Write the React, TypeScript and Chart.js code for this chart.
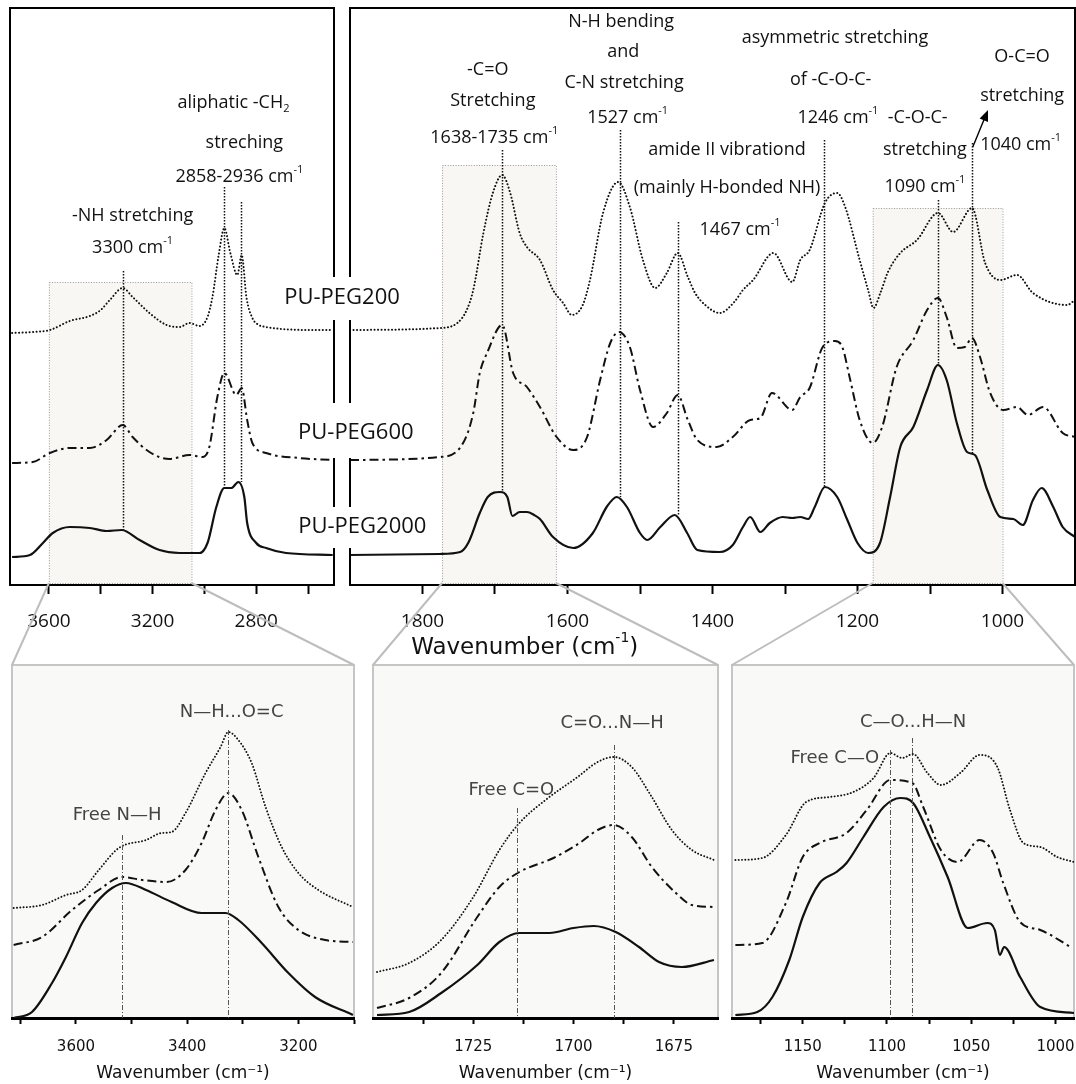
import React, { useEffect, useRef } from 'react';
import { Chart, registerables } from 'chart.js';
Chart.register(...registerables);

type P = [number, number];

// ---------- DATA (wavenumber cm-1, relative absorbance) ----------
// Top-left panel 3750-2500 cm-1
const tlPeg200: P[] = [[3742,25.2],[3660,25.3],[3596,25.5],[3519,26.4],[3442,26.9],[3400,27.5],[3365,28.5],[3315,29.7],[3277,28.8],[3212,27.2],[3146,26.0],[3096,25.8],[3058,26.2],[3019,25.9],[2988,26.8],[2969,28.8],[2945,33.0],[2923,35.7],[2900,33.2],[2873,31.0],[2856,33.0],[2838,28.8],[2815,26.7],[2790,26.0],[2762,25.8],[2700,25.6],[2600,25.5],[2505,25.5]];
const tlPeg600: P[] = [[3742,12.2],[3662,12.3],[3596,13.2],[3519,13.7],[3442,13.7],[3377,14.5],[3315,16.0],[3277,14.8],[3212,13.3],[3135,12.6],[3058,13.0],[3008,12.8],[2981,13.8],[2950,18.8],[2923,21.2],[2877,19.0],[2856,19.7],[2835,16.5],[2815,14.2],[2762,13.2],[2635,12.7],[2505,12.5]];
const tlPeg2000: P[] = [[3742,2.8],[3673,3.0],[3623,4.2],[3585,5.2],[3519,5.8],[3442,5.7],[3377,5.4],[3319,5.5],[3250,4.5],[3173,3.5],[3096,3.2],[3019,3.2],[2988,4.2],[2954,7.8],[2923,9.7],[2896,9.7],[2869,10.3],[2846,8.8],[2835,6.2],[2800,4.2],[2762,3.7],[2685,3.2],[2505,3.0]];

// Top-right panel 1900-900 cm-1
const trPeg200: P[] = [[1900,25.5],[1776,25.7],[1752,26.2],[1739,27.5],[1730,29.5],[1716,35.2],[1703,39.2],[1690,41.0],[1679,39.2],[1666,35.2],[1656,33.8],[1638,32.5],[1620,29.5],[1606,28.2],[1594,27.0],[1579,28.0],[1569,30.5],[1551,37.2],[1530,40.3],[1514,37.8],[1496,32.5],[1479,29.7],[1463,31.2],[1448,33.2],[1434,30.8],[1424,29.2],[1410,28.0],[1390,27.2],[1370,28.3],[1358,29.5],[1344,30.5],[1316,33.2],[1290,30.3],[1279,32.5],[1266,33.5],[1245,38.2],[1228,39.2],[1217,37.8],[1197,32.5],[1185,29.4],[1178,27.7],[1168,29.3],[1158,31.3],[1141,33.2],[1118,34.5],[1089,37.2],[1068,35.3],[1042,37.7],[1024,32.2],[1003,30.5],[980,31.0],[958,29.2],[911,28.0],[900,28.5]];
const trPeg600: P[] = [[1900,12.5],[1776,12.8],[1744,14.2],[1730,17.2],[1721,21.2],[1711,23.2],[1690,26.0],[1675,21.2],[1656,19.8],[1638,17.8],[1615,14.8],[1592,13.5],[1573,14.8],[1555,20.5],[1541,24.2],[1529,25.3],[1514,23.8],[1500,19.5],[1482,15.8],[1463,17.2],[1448,19.0],[1434,16.5],[1421,14.5],[1394,13.8],[1372,14.8],[1348,16.5],[1334,16.7],[1318,19.2],[1290,17.5],[1279,18.8],[1266,19.7],[1248,23.8],[1231,24.4],[1221,23.8],[1210,20.5],[1197,16.5],[1179,14.2],[1166,15.8],[1146,21.8],[1123,24.5],[1104,27.5],[1089,28.7],[1077,26.8],[1063,23.7],[1052,23.8],[1042,24.7],[1031,22.8],[1017,19.2],[999,17.5],[980,17.8],[965,17.0],[944,17.8],[917,15.2],[900,14.8]];
const trPeg2000: P[] = [[1900,3.0],[1776,3.1],[1748,3.3],[1737,4.2],[1721,7.2],[1710,8.8],[1693,9.3],[1683,8.8],[1676,6.9],[1666,7.3],[1656,7.3],[1646,7.0],[1638,6.6],[1620,4.8],[1592,3.7],[1565,5.2],[1546,7.8],[1532,8.8],[1518,7.8],[1500,5.2],[1490,4.5],[1472,5.8],[1452,7.0],[1435,5.2],[1421,3.5],[1390,3.3],[1372,4.0],[1358,5.8],[1348,6.8],[1334,5.3],[1321,6.2],[1303,6.8],[1290,6.7],[1279,6.8],[1268,6.6],[1259,7.8],[1245,9.8],[1228,8.8],[1214,6.5],[1200,4.2],[1185,3.2],[1169,4.2],[1155,8.8],[1141,13.8],[1123,15.8],[1104,19.5],[1089,22.0],[1077,20.5],[1063,16.2],[1049,13.3],[1038,13.0],[1021,9.5],[1003,6.8],[985,6.6],[972,6.0],[958,8.5],[946,9.7],[930,7.8],[917,5.8],[900,4.8]];

// Bottom panels (zoomed regions)
const aPeg200: P[] = [[3712,11.0],[3661,11.3],[3618,12.3],[3589,12.8],[3559,14.8],[3523,17.0],[3474,17.8],[3446,18.5],[3428,18.6],[3403,20.5],[3367,24.5],[3340,27.1],[3326,28.6],[3308,27.8],[3284,25.5],[3259,21.1],[3230,17.1],[3200,14.5],[3164,12.8],[3102,11.1]];
const aPeg600: P[] = [[3712,7.3],[3661,8.1],[3607,10.8],[3559,12.8],[3517,14.1],[3481,13.8],[3437,13.6],[3403,14.8],[3374,17.5],[3349,20.8],[3326,22.5],[3302,20.8],[3272,16.1],[3236,11.1],[3200,8.8],[3152,7.8],[3102,7.6]];
const aPeg2000: P[] = [[3712,0.0],[3679,0.6],[3643,3.5],[3618,6.1],[3589,9.5],[3564,11.5],[3535,13.0],[3510,13.5],[3474,12.8],[3428,11.6],[3374,10.5],[3331,10.5],[3308,9.8],[3266,7.5],[3218,4.5],[3170,2.1],[3102,0.3]];

const bPeg200: P[] = [[1749,4.6],[1741,5.5],[1733,7.8],[1725,12.1],[1718.5,16.8],[1713.5,19.5],[1707,21.8],[1699,24.1],[1694,25.6],[1690,26.1],[1685.5,25.1],[1680.5,22.1],[1675.5,18.8],[1670.5,16.8],[1665,15.8]];
const bPeg600: P[] = [[1749,1.0],[1741,2.0],[1733,4.5],[1724,10.1],[1718.5,13.1],[1713.5,14.6],[1705,16.0],[1698.5,17.5],[1694,18.8],[1690,19.3],[1685.5,18.1],[1680.5,15.1],[1674.5,12.5],[1670.5,11.3],[1665,11.1]];
const bPeg2000: P[] = [[1749,0.3],[1741,0.6],[1733,2.5],[1724,5.3],[1718.5,7.6],[1713.5,8.5],[1706,8.5],[1700,9.0],[1695,9.2],[1689.5,8.6],[1683.7,7.1],[1678.7,5.6],[1673,5.1],[1665,5.8]];

const cPeg200: P[] = [[1190,15.8],[1174,16.0],[1160,18.3],[1148,21.6],[1134,22.1],[1120,22.6],[1108,24.0],[1098,26.5],[1091,26.0],[1084.5,26.4],[1076,24.5],[1068,23.3],[1056.5,24.5],[1045,26.3],[1034.5,25.1],[1027,20.8],[1019,17.5],[1009,17.1],[999,16.1],[989,15.6]];
const cPeg600: P[] = [[1190,7.3],[1174,7.5],[1160,11.5],[1150,16.1],[1140,17.5],[1124,18.5],[1112,20.8],[1098,23.8],[1085,23.5],[1078.5,21.1],[1068,16.8],[1058,15.6],[1045,17.8],[1037,16.5],[1031,13.5],[1021,9.6],[1009,8.8],[991,7.1]];
const cPeg2000: P[] = [[1190,0.3],[1177,0.6],[1168,2.1],[1158,5.8],[1150,10.1],[1140,13.5],[1130,14.6],[1124,15.5],[1114,18.1],[1102,21.1],[1092,22.0],[1084.5,21.5],[1074.5,18.1],[1064,14.1],[1052,9.0],[1040.5,9.5],[1036,8.8],[1033,6.3],[1030.5,7.1],[1021,4.1],[1009,1.1],[989,0.5]];

// Ticks
const tlTicks = [3600, 3400, 3200, 3000, 2800, 2600];
const tlLabels = [3600, 3200, 2800];
const trTicks = [1800, 1700, 1600, 1500, 1400, 1300, 1200, 1100, 1000];
const trLabels = [1800, 1600, 1400, 1200, 1000];
const aTicks = [3700, 3600, 3500, 3400, 3300, 3200, 3100];
const aLabels = [3600, 3400, 3200];
const bTicks = [1737.5, 1725, 1712.5, 1700, 1687.5, 1675];
const bLabels = [1725, 1700, 1675];
const cTicks = [1175, 1150, 1125, 1100, 1075, 1050, 1025, 1000];
const cLabels = [1150, 1100, 1050, 1000];

// Marker lines [wavenumber, top, bottom]
const tlMarks: [number, number, number][] = [[3315, 31.4, 5.5], [2923, 39.8, 9.7], [2858, 38.3, 10.3]];
const trMarks: [number, number, number][] = [[1690, 43.5, 9.3], [1527, 45.5, 8.8], [1448, 36.3, 7.0], [1246, 44.5, 9.8], [1089, 38.5, 22.0], [1042, 44.2, 13.0]];
const aMarks: [number, number, number][] = [[3517, 18.3, 0], [3326, 28.8, 0]];
const bMarks: [number, number, number][] = [[1714, 21.0, 0], [1690, 27.3, 0]];
const cMarks: [number, number, number][] = [[1098, 26.8, 0], [1085, 28.0, 0]];

// Zoom regions [from, to, bottom, top]
const tlBoxes: [number, number, number, number][] = [[3600, 3050, 0.2, 30.3]];
const trBoxes: [number, number, number, number][] = [[1773, 1616, 0.2, 42.0], [1179, 1000, 0.2, 37.7]];

// Annotations [text, wavenumber, level]
const tlNotes: [string, number, number][] = [
  ['-NH stretching', 3277, 36.9], ['3300 cm^{-1}', 3277, 33.7],
  ['aliphatic -CH_{2}', 2888, 48.2], ['streching', 2846, 44.2], ['2858-2936 cm^{-1}', 2865, 40.8],
];
const trNotes: [string, number, number][] = [
  ['-C=O', 1710, 51.5], ['Stretching', 1703, 48.4], ['1638-1735 cm^{-1}', 1701, 44.7],
  ['N-H bending', 1526, 56.3], ['and', 1523, 53.3], ['C-N stretching', 1522, 50.2], ['1527 cm^{-1}', 1517, 46.7],
  ['amide II vibrationd', 1380, 43.5], ['(mainly H-bonded NH)', 1380, 39.7], ['1467 cm^{-1}', 1362, 35.5],
  ['asymmetric stretching', 1231, 54.7], ['of -C-O-C-', 1237, 50.5], ['1246 cm^{-1}', 1227, 46.7],
  ['-C-O-C-', 1117, 46.7], ['stretching', 1107, 43.5], ['1090 cm^{-1}', 1107, 39.8],
  ['O-C=O', 973, 52.8], ['stretching', 973, 48.9], ['1040 cm^{-1}', 975, 44.0],
];
const trTitle: [string, number, number][] = [['Wavenumber (cm^{-1})', 1659, -6.3]];
const trArrows: [number, number, number, number][] = [[1041, 43.8, 1020, 47.5]];
const aNotes: [string, number, number][] = [['Free N—H', 3526, 20.3], ['N—H...O=C', 3320, 30.6]];
const bNotes: [string, number, number][] = [['Free C=O', 1715.5, 22.8], ['C=O...N—H', 1690.4, 29.5]];
const cNotes: [string, number, number][] = [['Free C—O', 1131, 26.0], ['C—O...H—N', 1084.5, 29.6]];

// Frame breaks on the inner borders of the top panels (level ranges)
const topBreaks: [number, number][] = [[57.7, 30.8], [26.5, 18.2], [12.7, 7.8], [3.7, 0]];

const pegLabels: [string, number, number][] = [['PU-PEG200', 1911, 28.7], ['PU-PEG600', 1892, 15.2], ['PU-PEG2000', 1883, 5.8]];

// ---------- STYLE ----------
const TXT = '"Open Sans", "DejaVu Sans", sans-serif';
const AX = '"DejaVu Sans", sans-serif';

type Kind = 'dot' | 'dashdot' | 'solid';

interface Panel {
  left: number; top: number; w: number; h: number;
  pad: { left: number; right: number; top: number; bottom: number };
  xMin: number; xMax: number; yMax: number;
  ticks: number[]; labels: number[];
  axisH: number; tickLen: number; tickPad: number; tickFont: any; borderW: number;
  title?: string;
  series: { data: P[]; kind: Kind }[];
  boxes: [number, number, number, number][];
  marks: [number, number, number][];
  markStyle: 'dot' | 'dashdot';
  notes: [string, number, number][];
  noteFont: string; noteSize: number; noteColor: string;
  extraText?: [string, number, number][];
  arrows?: [number, number, number, number][];
  frame: 'tl' | 'tr' | 'bottom';
  small: boolean;
}

const PANELS: Panel[] = [
  {
    left: 8, top: 6, w: 328, h: 659, pad: { left: 2, right: 2, top: 2, bottom: 0 },
    xMin: 2500, xMax: 3750, yMax: 57.7, ticks: tlTicks, labels: tlLabels,
    axisH: 80, tickLen: 9, tickPad: 16, tickFont: { family: TXT, size: 19 }, borderW: 2,
    series: [{ data: tlPeg200, kind: 'dot' }, { data: tlPeg600, kind: 'dashdot' }, { data: tlPeg2000, kind: 'solid' }],
    boxes: tlBoxes, marks: tlMarks, markStyle: 'dot', notes: tlNotes,
    noteFont: TXT, noteSize: 18, noteColor: '#111', frame: 'tl', small: false,
  },
  {
    left: 348, top: 6, w: 728, h: 659, pad: { left: 2, right: 1, top: 2, bottom: 0 },
    xMin: 900, xMax: 1900, yMax: 57.7, ticks: trTicks, labels: trLabels,
    axisH: 80, tickLen: 9, tickPad: 16, tickFont: { family: TXT, size: 19 }, borderW: 2,
    series: [{ data: trPeg200, kind: 'dot' }, { data: trPeg600, kind: 'dashdot' }, { data: trPeg2000, kind: 'solid' }],
    boxes: trBoxes, marks: trMarks, markStyle: 'dot', notes: trNotes,
    noteFont: TXT, noteSize: 18, noteColor: '#111', extraText: trTitle, arrows: trArrows, frame: 'tr', small: false,
  },
  {
    left: 10, top: 663, w: 346, h: 421, pad: { left: 2, right: 2, top: 2, bottom: 0 },
    xMin: 3100, xMax: 3715, yMax: 35.3, ticks: aTicks, labels: aLabels,
    axisH: 66, tickLen: 6, tickPad: 14, tickFont: { family: AX, size: 15 }, borderW: 3,
    title: 'Wavenumber (cm⁻¹)',
    series: [{ data: aPeg200, kind: 'dot' }, { data: aPeg600, kind: 'dashdot' }, { data: aPeg2000, kind: 'solid' }],
    boxes: [], marks: aMarks, markStyle: 'dashdot', notes: aNotes,
    noteFont: AX, noteSize: 18, noteColor: '#444', frame: 'bottom', small: true,
  },
  {
    left: 371, top: 663, w: 349, h: 421, pad: { left: 2, right: 2, top: 2, bottom: 0 },
    xMin: 1664, xMax: 1750, yMax: 35.3, ticks: bTicks, labels: bLabels,
    axisH: 66, tickLen: 6, tickPad: 14, tickFont: { family: AX, size: 15 }, borderW: 3,
    title: 'Wavenumber (cm⁻¹)',
    series: [{ data: bPeg200, kind: 'dot' }, { data: bPeg600, kind: 'dashdot' }, { data: bPeg2000, kind: 'solid' }],
    boxes: [], marks: bMarks, markStyle: 'dashdot', notes: bNotes,
    noteFont: AX, noteSize: 18, noteColor: '#444', frame: 'bottom', small: true,
  },
  {
    left: 730, top: 663, w: 346, h: 421, pad: { left: 2, right: 2, top: 2, bottom: 0 },
    xMin: 989, xMax: 1192, yMax: 35.3, ticks: cTicks, labels: cLabels,
    axisH: 66, tickLen: 6, tickPad: 14, tickFont: { family: AX, size: 15 }, borderW: 3,
    title: 'Wavenumber (cm⁻¹)',
    series: [{ data: cPeg200, kind: 'dot' }, { data: cPeg600, kind: 'dashdot' }, { data: cPeg2000, kind: 'solid' }],
    boxes: [], marks: cMarks, markStyle: 'dashdot', notes: cNotes,
    noteFont: AX, noteSize: 18, noteColor: '#444', frame: 'bottom', small: true,
  },
];

// connectors: [source panel, wavenumber, target panel, side]
const zoomLinks: [number, number, number, 'l' | 'r'][] = [
  [0, 3600, 2, 'l'], [0, 3050, 2, 'r'], [1, 1773, 3, 'l'], [1, 1616, 3, 'r'], [1, 1179, 4, 'l'], [1, 1000, 4, 'r'],
];

// ---------- helpers ----------
function richParts(s: string) {
  const out: { t: string; k: number }[] = [];
  const re = /(\^\{[^}]*\}|_\{[^}]*\})/g;
  let last = 0;
  let m: RegExpExecArray | null;
  while ((m = re.exec(s))) {
    if (m.index > last) out.push({ t: s.slice(last, m.index), k: 0 });
    out.push({ t: m[0].slice(2, -1), k: m[0][0] === '^' ? 1 : 2 });
    last = re.lastIndex;
  }
  if (last < s.length) out.push({ t: s.slice(last), k: 0 });
  return out;
}

function drawRich(ctx: CanvasRenderingContext2D, s: string, cx: number, cy: number, size: number, family: string, color: string) {
  const ps = richParts(s);
  const small = Math.round(size * 0.62);
  let total = 0;
  const ws = ps.map((p) => {
    ctx.font = `${p.k ? small : size}px ${family}`;
    const w = ctx.measureText(p.t).width;
    total += w;
    return w;
  });
  let x = cx - total / 2;
  ctx.fillStyle = color;
  ctx.textAlign = 'left';
  ctx.textBaseline = 'middle';
  ps.forEach((p, i) => {
    ctx.font = `${p.k ? small : size}px ${family}`;
    const dy = p.k === 1 ? -size * 0.42 : p.k === 2 ? size * 0.3 : 0;
    ctx.fillText(p.t, x, cy + dy);
    x += ws[i];
  });
}

function decor(p: Panel) {
  return {
    id: 'decor',
    beforeDraw(chart: any) {
      if (p.frame !== 'bottom') return;
      const { ctx, chartArea: a } = chart;
      ctx.save();
      ctx.fillStyle = '#f9f9f7';
      ctx.fillRect(a.left, a.top, a.right - a.left, a.bottom - a.top);
      ctx.strokeStyle = '#c6c6c6';
      ctx.lineWidth = 2;
      ctx.strokeRect(a.left, a.top, a.right - a.left, a.bottom - a.top);
      ctx.restore();
    },
    beforeDatasetsDraw(chart: any) {
      const { ctx, scales: { x, y } } = chart;
      ctx.save();
      p.boxes.forEach(([x0, x1, y0, y1]) => {
        const px0 = x.getPixelForValue(x0), px1 = x.getPixelForValue(x1);
        const py0 = y.getPixelForValue(y0), py1 = y.getPixelForValue(y1);
        ctx.fillStyle = '#f8f7f4';
        ctx.fillRect(px0, py1, px1 - px0, py0 - py1);
        ctx.strokeStyle = '#9a9a9a';
        ctx.lineWidth = 1;
        ctx.setLineDash([1, 1.6]);
        ctx.strokeRect(px0 + 0.5, py1 + 0.5, px1 - px0, py0 - py1);
      });
      ctx.restore();
    },
    afterDatasetsDraw(chart: any) {
      const { ctx, chartArea: a, scales: { x, y } } = chart;
      ctx.save();
      // marker lines
      p.marks.forEach(([w, t, b]) => {
        const px = Math.round(x.getPixelForValue(w)) + 0.5;
        ctx.beginPath();
        if (p.markStyle === 'dot') {
          ctx.strokeStyle = '#111'; ctx.lineWidth = 1.5; ctx.setLineDash([1.5, 1.5]);
        } else {
          ctx.strokeStyle = '#555'; ctx.lineWidth = 1; ctx.setLineDash([5, 2, 1, 2]);
        }
        ctx.moveTo(px, y.getPixelForValue(t));
        ctx.lineTo(px, y.getPixelForValue(b));
        ctx.stroke();
      });
      ctx.setLineDash([]);
      // arrows
      (p.arrows || []).forEach(([x0, y0, x1, y1]) => {
        const ax = x.getPixelForValue(x0), ay = y.getPixelForValue(y0);
        const bx = x.getPixelForValue(x1), by = y.getPixelForValue(y1);
        const ang = Math.atan2(by - ay, bx - ax);
        ctx.strokeStyle = '#000'; ctx.fillStyle = '#000'; ctx.lineWidth = 1.4;
        ctx.beginPath(); ctx.moveTo(ax, ay); ctx.lineTo(bx - 6 * Math.cos(ang), by - 6 * Math.sin(ang)); ctx.stroke();
        ctx.beginPath();
        ctx.moveTo(bx, by);
        ctx.lineTo(bx - 11 * Math.cos(ang) + 4.5 * Math.sin(ang), by - 11 * Math.sin(ang) - 4.5 * Math.cos(ang));
        ctx.lineTo(bx - 11 * Math.cos(ang) - 4.5 * Math.sin(ang), by - 11 * Math.sin(ang) + 4.5 * Math.cos(ang));
        ctx.closePath(); ctx.fill();
      });
      // texts
      p.notes.forEach(([t, w, v]) => drawRich(ctx, t, x.getPixelForValue(w), y.getPixelForValue(v), p.noteSize, p.noteFont, p.noteColor));
      (p.extraText || []).forEach(([t, w, v]) => drawRich(ctx, t, x.getPixelForValue(w), y.getPixelForValue(v), 23, AX, '#111'));
      // frames
      ctx.strokeStyle = '#000';
      ctx.lineWidth = 2;
      const line = (x0: number, y0: number, x1: number, y1: number) => { ctx.beginPath(); ctx.moveTo(x0, y0); ctx.lineTo(x1, y1); ctx.stroke(); };
      if (p.frame === 'tl') {
        line(a.left, a.top, a.left, a.bottom);
        line(a.left - 1, a.top, a.right, a.top);
        topBreaks.forEach(([t, b]) => line(a.right, y.getPixelForValue(t) - (t >= p.yMax ? 1 : 0), a.right, y.getPixelForValue(b)));
      } else if (p.frame === 'tr') {
        line(a.left, a.top, a.right, a.top);
        line(a.right, a.top - 1, a.right, a.bottom);
        topBreaks.forEach(([t, b]) => line(a.left, y.getPixelForValue(t) - (t >= p.yMax ? 1 : 0), a.left, y.getPixelForValue(b)));
      }
      ctx.restore();
    },
  };
}

function buildConfig(p: Panel): any {
  const lineStyle = (k: Kind) => {
    if (k === 'dot') return { borderDash: p.small ? [0.1, 3.2] : [0.1, 3.4], borderWidth: p.small ? 1.9 : 2, borderCapStyle: 'round' };
    if (k === 'dashdot') return { borderDash: [9, 4, 2.5, 4], borderWidth: 2, borderCapStyle: 'butt' };
    return { borderDash: [], borderWidth: 2.2, borderCapStyle: 'butt' };
  };
  return {
    type: 'line',
    data: {
      datasets: p.series.map((s) => ({
        data: s.data.map(([x, y]) => ({ x, y })),
        borderColor: '#111',
        pointRadius: 0,
        fill: false,
        cubicInterpolationMode: 'monotone',
        ...lineStyle(s.kind),
      })),
    },
    options: {
      responsive: false,
      animation: false,
      devicePixelRatio: 1,
      events: [],
      layout: { padding: p.pad },
      plugins: { legend: { display: false }, tooltip: { enabled: false } },
      scales: {
        x: {
          type: 'linear',
          reverse: true,
          min: p.xMin,
          max: p.xMax,
          afterBuildTicks: (s: any) => { s.ticks = p.ticks.map((v) => ({ value: v })); },
          afterFit: (s: any) => { s.height = p.axisH; s.paddingLeft = 0; s.paddingRight = 0; },
          ticks: {
            autoSkip: false,
            maxRotation: 0,
            padding: p.tickPad,
            color: '#111',
            font: p.tickFont,
            callback: (v: number) => (p.labels.includes(v) ? String(v) : ''),
          },
          grid: { display: true, drawOnChartArea: false, drawTicks: true, tickLength: p.tickLen, tickWidth: 2, tickColor: '#000' },
          border: { display: true, color: '#000', width: p.borderW },
          title: p.title
            ? { display: true, text: p.title, color: '#111', font: { family: AX, size: 17 }, padding: { top: 0, bottom: 0 } }
            : { display: false },
        },
        y: { display: false, min: 0, max: p.yMax },
      },
    },
    plugins: [decor(p)],
  };
}

function drawOverlay(cv: HTMLCanvasElement, charts: any[]) {
  const ctx = cv.getContext('2d')!;
  ctx.clearRect(0, 0, cv.width, cv.height);
  ctx.strokeStyle = '#bdbdbd';
  ctx.lineWidth = 2;
  zoomLinks.forEach(([src, w, dst, side]) => {
    const sc = charts[src], sp = PANELS[src];
    const dc = charts[dst], dp = PANELS[dst];
    const x0 = sc.scales.x.getPixelForValue(w) + sp.left;
    const y0 = sc.scales.y.getPixelForValue(0.2) + sp.top;
    const x1 = (side === 'l' ? dc.chartArea.left : dc.chartArea.right) + dp.left;
    const y1 = dc.chartArea.top + dp.top;
    ctx.beginPath(); ctx.moveTo(x0, y0); ctx.lineTo(x1, y1); ctx.stroke();
  });
  const tr = charts[1], tp = PANELS[1];
  pegLabels.forEach(([t, w, v]) => {
    drawRich(ctx, t, tr.scales.x.getPixelForValue(w) + tp.left, tr.scales.y.getPixelForValue(v) + tp.top, 22, TXT, '#111');
  });
}

export default function App() {
  const boxRef = useRef<HTMLDivElement>(null);
  const overlayRef = useRef<HTMLCanvasElement>(null);
  useEffect(() => {
    const cvs = Array.from(boxRef.current!.querySelectorAll('canvas.panel')) as HTMLCanvasElement[];
    const charts = cvs.map((cv, i) => new Chart(cv, buildConfig(PANELS[i])));
    drawOverlay(overlayRef.current!, charts);
    return () => charts.forEach((c) => c.destroy());
  }, []);
  return (
    <div ref={boxRef} style={{ position: 'absolute', left: 0, top: 0, width: 1076, height: 1084, background: '#fff', overflow: 'hidden' }}>
      {PANELS.map((p, i) => (
        <canvas
          key={i}
          className="panel"
          width={p.w}
          height={p.h}
          style={{ position: 'absolute', left: p.left, top: p.top, width: p.w, height: p.h }}
        />
      ))}
      <canvas ref={overlayRef} width={1076} height={1084} style={{ position: 'absolute', left: 0, top: 0, pointerEvents: 'none' }} />
    </div>
  );
}
